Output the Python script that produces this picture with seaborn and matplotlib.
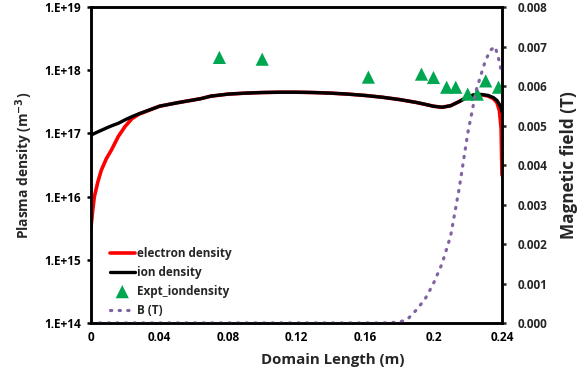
import math
import matplotlib
matplotlib.use('Agg')
import matplotlib.pyplot as plt
import matplotlib.ticker as mticker
import seaborn as sns

# 데이터
x_sim = [0, 0.001, 0.002, 0.004, 0.006, 0.009, 0.012, 0.016, 0.02, 0.024, 0.028, 0.04,
         0.05, 0.06, 0.064, 0.07, 0.08, 0.09, 0.1, 0.11, 0.12, 0.13, 0.14, 0.15, 0.16,
         0.17, 0.18, 0.19, 0.195, 0.2, 0.205, 0.21, 0.215, 0.22, 0.224, 0.228, 0.232,
         0.235, 0.237, 0.2385, 0.2395, 0.24]
ion_density = [9.3e16, 9.7e16, 1.0e17, 1.06e17, 1.12e17, 1.22e17, 1.32e17, 1.45e17,
               1.65e17, 1.85e17, 2.05e17, 2.7e17, 3.05e17, 3.4e17, 3.55e17, 3.9e17,
               4.2e17, 4.35e17, 4.45e17, 4.5e17, 4.5e17, 4.45e17, 4.35e17, 4.2e17,
               4.0e17, 3.75e17, 3.45e17, 3.1e17, 2.9e17, 2.7e17, 2.6e17, 2.75e17,
               3.2e17, 3.8e17, 4.1e17, 4.15e17, 4.0e17, 3.7e17, 3.35e17, 2.9e17,
               2.5e17, 2.2e17]
electron_density = [3.2e15, 6.0e15, 1.0e16, 1.7e16, 2.6e16, 4.0e16, 5.5e16, 9.0e16,
                    1.3e17, 1.72e17, 2.02e17, 2.7e17, 3.05e17, 3.4e17, 3.55e17, 3.9e17,
                    4.2e17, 4.35e17, 4.45e17, 4.5e17, 4.5e17, 4.45e17, 4.35e17, 4.2e17,
                    4.0e17, 3.75e17, 3.45e17, 3.1e17, 2.9e17, 2.7e17, 2.6e17, 2.75e17,
                    3.2e17, 3.8e17, 4.1e17, 4.1e17, 3.9e17, 3.55e17, 3.1e17, 2.3e17,
                    1.2e17, 2.2e16]

x_expt = [0.075, 0.1, 0.162, 0.193, 0.2, 0.2077, 0.213, 0.22, 0.2256, 0.2305, 0.238]
expt_iondensity = [1.6e18, 1.5e18, 7.8e17, 8.7e17, 7.7e17, 5.4e17, 5.4e17, 4.2e17,
                   4.2e17, 6.8e17, 5.4e17]

x_b = [0, 0.17, 0.18, 0.185, 0.19, 0.195, 0.2, 0.205, 0.21, 0.215, 0.22, 0.225,
       0.23, 0.233, 0.236, 0.238, 0.24]
b_field = [0, 0, 0.00002, 0.0001, 0.00033, 0.0006, 0.001, 0.0015, 0.0022, 0.0034,
           0.0048, 0.0059, 0.0066, 0.0069, 0.0070, 0.0067, 0.0063]

x_ticks = [0, 0.04, 0.08, 0.12, 0.16, 0.2, 0.24]
y_ticks = [1e14, 1e15, 1e16, 1e17, 1e18, 1e19]
b_ticks = [0, 0.001, 0.002, 0.003, 0.004, 0.005, 0.006, 0.007, 0.008]

sns.set_style('white')
plt.rcParams['font.family'] = ['Open Sans', 'DejaVu Sans']
plt.rcParams['font.weight'] = 'bold'
plt.rcParams['axes.labelweight'] = 'bold'
plt.rcParams['mathtext.default'] = 'bf'

fig = plt.figure(figsize=(5.83, 3.76), dpi=100)
ax = fig.add_axes([0.156, 0.141, 0.705, 0.84])
ax2 = ax.twinx()

sns.lineplot(x=x_sim, y=electron_density, ax=ax, color='#FF0000', lw=2.6,
             sort=False, label='electron density')
sns.lineplot(x=x_sim, y=ion_density, ax=ax, color='black', lw=2.4,
             sort=False, label='ion density')
sns.scatterplot(x=x_expt, y=expt_iondensity, ax=ax, marker='^', s=90,
                color='#00A650', edgecolor='none', label='Expt_iondensity', zorder=5)
sns.lineplot(x=x_b, y=b_field, ax=ax2, color='#8064A2', lw=2.3,
             sort=False, label='B (T)')
ax2.lines[0].set_linestyle((0, (0.4, 2.3)))
ax2.lines[0].set_dash_capstyle('round')

ax.set_yscale('log')
ax.set_ylim(1e14, 1e19)
ax.set_xlim(0, 0.24)
ax2.set_ylim(0, 0.008)

ax.set_xticks(x_ticks)
ax.xaxis.set_major_formatter(mticker.FuncFormatter(lambda v, p: '%g' % v))
ax.set_yticks(y_ticks)
ax.yaxis.set_minor_locator(mticker.NullLocator())
ax.yaxis.set_major_formatter(mticker.FuncFormatter(lambda v, p: '1.E+%d' % round(math.log10(v))))
ax2.set_yticks(b_ticks)
ax2.yaxis.set_major_formatter(mticker.FormatStrFormatter('%.3f'))

for a in (ax, ax2):
    for s in a.spines.values():
        s.set_color('black')
        s.set_linewidth(1.8)
ax.tick_params(axis='both', which='major', direction='out', length=3, width=1.8,
               labelsize=8.5, pad=3, colors='black')
ax2.tick_params(axis='y', direction='out', length=3, width=1.8, labelsize=8.5, pad=8)
ax.tick_params(axis='y', pad=4)

ax.set_xlabel('Domain Length (m)', fontsize=10.8, fontweight='bold')
ax.xaxis.set_label_coords(0.589, -0.095)
ax.set_ylabel('Plasma density (m$^{-3}$)', fontsize=9.9, fontweight='bold', labelpad=7)
ax2.set_ylabel('Magnetic field (T)', fontsize=12.3, fontweight='bold', labelpad=9)

h1, l1 = ax.get_legend_handles_labels()
h2, l2 = ax2.get_legend_handles_labels()
ax.get_legend().remove()
ax2.get_legend().remove()
ax2.legend(h1 + h2, l1 + l2, loc='lower left', bbox_to_anchor=(0.046, 0.02),
           frameon=False, handlelength=2.1, handletextpad=0.2,
           labelspacing=0.5, borderaxespad=0, borderpad=0,
           prop={'weight': 'bold', 'size': 8.5})

fig.savefig('out.png', dpi=100)
